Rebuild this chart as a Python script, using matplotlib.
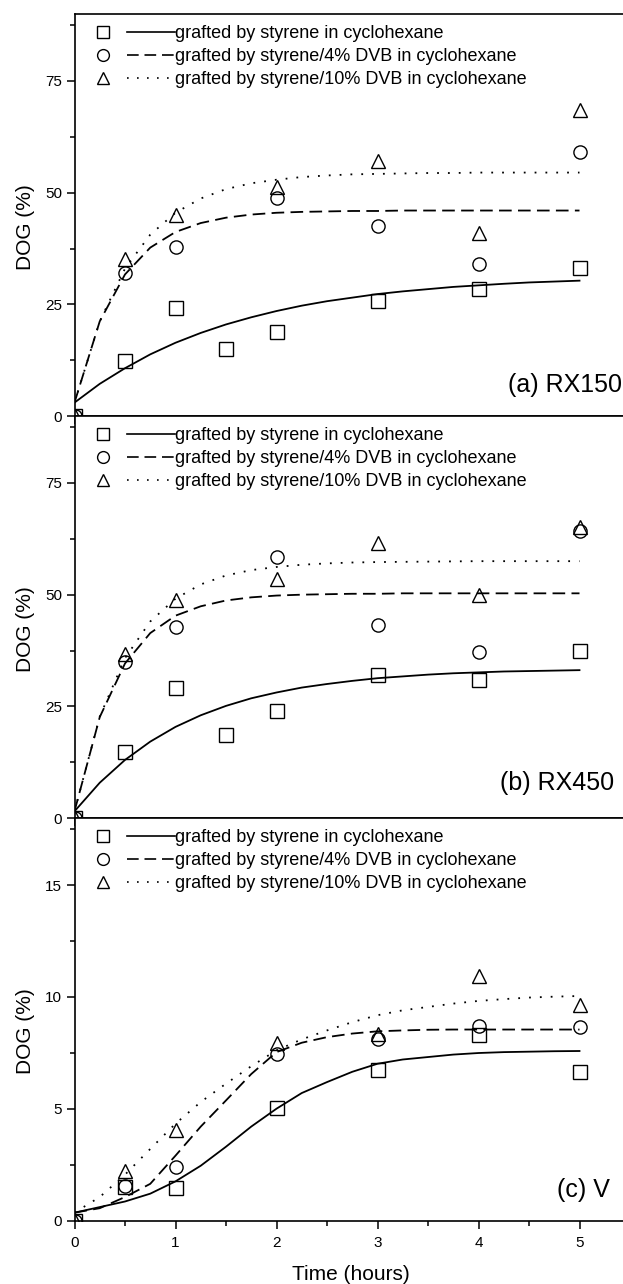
import matplotlib
matplotlib.use("Agg")
import matplotlib.pyplot as plt
from matplotlib.lines import Line2D
from matplotlib.legend_handler import HandlerTuple
from matplotlib.ticker import MultipleLocator

plt.rcParams["font.family"] = ["Liberation Sans", "DejaVu Sans"]

# ---- data ---------------------------------------------------------------
t_sq = [0, 0.5, 1, 1.5, 2, 3, 4, 5]
t_pt = [0, 0.5, 1, 2, 3, 4, 5]
t_sq_v = [0, 0.5, 1, 2, 3, 4, 5]

# (a) RX150
a_sty = [0, 12.4, 24.2, 15.1, 18.8, 25.7, 28.5, 33.1]
a_dvb4 = [0, 32.0, 37.9, 48.7, 42.6, 34.0, 59.0]
a_dvb10 = [0, 35.2, 45.0, 51.3, 57.1, 40.9, 68.5]

# (b) RX450
b_sty = [0, 14.8, 29.0, 18.6, 23.9, 32.0, 31.0, 37.4]
b_dvb4 = [0, 35.0, 42.8, 58.5, 43.2, 37.2, 64.2]
b_dvb10 = [0, 36.8, 48.9, 53.6, 61.5, 49.9, 65.1]

# (c) V
c_sty = [0, 1.52, 1.46, 5.04, 6.74, 8.28, 6.64]
c_dvb4 = [0, 1.55, 2.39, 7.46, 8.13, 8.68, 8.65]
c_dvb10 = [0, 2.2, 4.03, 7.94, 8.33, 10.92, 9.62]

# fitted curves, read at 0.25 h steps
t_fit = [0, 0.25, 0.5, 0.75, 1, 1.25, 1.5, 1.75, 2, 2.25, 2.5, 2.75, 3,
         3.25, 3.5, 3.75, 4, 4.25, 4.5, 4.75, 5]

a_fit_sty = [3.0, 7.2, 10.7, 13.8, 16.4, 18.6, 20.5, 22.1, 23.5, 24.7, 25.7,
             26.5, 27.3, 27.9, 28.4, 28.9, 29.25, 29.6, 29.9, 30.1, 30.3]
a_fit_dvb4 = [3.0, 21.2, 31.7, 37.7, 41.2, 43.2, 44.4, 45.1, 45.5, 45.7, 45.8,
              45.9, 45.9, 46.0, 46.0, 46.0, 46.0, 46.0, 46.0, 46.0, 46.0]
a_fit_dvb10 = [3.0, 21.2, 33.0, 40.6, 45.5, 48.7, 50.8, 52.1, 52.9, 53.5,
               53.85, 54.1, 54.2, 54.3, 54.4, 54.4, 54.5, 54.5, 54.5, 54.5, 54.5]

b_fit_sty = [1.5, 7.9, 13.0, 17.1, 20.4, 23.0, 25.1, 26.8, 28.1, 29.2, 30.0,
             30.7, 31.3, 31.7, 32.1, 32.4, 32.6, 32.8, 32.9, 33.0, 33.1]
b_fit_dvb4 = [1.5, 22.6, 34.6, 41.4, 45.3, 47.4, 48.7, 49.4, 49.8, 50.0, 50.1,
              50.2, 50.2, 50.3, 50.3, 50.3, 50.3, 50.3, 50.3, 50.3, 50.3]
b_fit_dvb10 = [1.5, 22.7, 35.8, 44.0, 49.1, 52.3, 54.3, 55.5, 56.2, 56.7, 57.0,
               57.2, 57.3, 57.35, 57.4, 57.45, 57.5, 57.5, 57.5, 57.5, 57.5]

c_fit_sty = [0.35, 0.6, 0.85, 1.2, 1.75, 2.45, 3.3, 4.2, 5.0, 5.7, 6.19,
             6.65, 7.01, 7.2, 7.31, 7.42, 7.49, 7.53, 7.55, 7.57, 7.58]
c_fit_dvb4 = [0.35, 0.55, 1.05, 1.64, 2.9, 4.2, 5.37, 6.55, 7.53, 7.95, 8.2,
              8.36, 8.46, 8.5, 8.53, 8.54, 8.54, 8.54, 8.54, 8.54, 8.54]
c_fit_dvb10 = [0.35, 1.05, 2.05, 3.2, 4.33, 5.3, 6.12, 6.9, 7.61, 8.1, 8.5,
               8.87, 9.18, 9.4, 9.55, 9.7, 9.82, 9.9, 9.97, 10.01, 10.04]

legend_labels = ["grafted by styrene in cyclohexane",
                 "grafted by styrene/4% DVB in cyclohexane",
                 "grafted by styrene/10% DVB in cyclohexane"]

panels = [
    dict(tag="(a) RX150", ymax=90, ystep=25,
         sq=(t_sq, a_sty), ci=(t_pt, a_dvb4), tr=(t_pt, a_dvb10),
         fits=(a_fit_sty, a_fit_dvb4, a_fit_dvb10), px=(14, 416),
         tagpos=(0.998, 0.077)),
    dict(tag="(b) RX450", ymax=90, ystep=25,
         sq=(t_sq, b_sty), ci=(t_pt, b_dvb4), tr=(t_pt, b_dvb10),
         fits=(b_fit_sty, b_fit_dvb4, b_fit_dvb10), px=(416, 818),
         tagpos=(0.984, 0.087)),
    dict(tag="(c) V", ymax=18, ystep=5,
         sq=(t_sq_v, c_sty), ci=(t_pt, c_dvb4), tr=(t_pt, c_dvb10),
         fits=(c_fit_sty, c_fit_dvb4, c_fit_dvb10), px=(818, 1220.5),
         tagpos=(0.976, 0.076)),
]

W, H = 623, 1284
LEFT = 74.5
XMAX = (W - LEFT) / 101.0

markers = ["s", "o", "^"]
styles = ["-", (0, (7, 3.5)), (0, (1, 5))]

fig = plt.figure(figsize=(W / 100, H / 100), dpi=100)

for i, p in enumerate(panels):
    top, bot = p["px"]
    ax = fig.add_axes([LEFT / W, 1 - bot / H, 1 - LEFT / W, (bot - top) / H])
    ax.set_xlim(0, XMAX)
    ax.set_ylim(0, p["ymax"])

    for (xs, ys), m in zip((p["sq"], p["ci"], p["tr"]), markers):
        ax.plot(xs, ys, ls="none", marker=m, ms=9.5, mfc="none", mec="black",
                mew=1.0, zorder=4)
    for ys, ls in zip(p["fits"], styles):
        ax.plot(t_fit, ys, color="black", ls=ls, lw=1.3, zorder=3)

    handles = []
    for m, ls in zip(markers, styles):
        mk = Line2D([], [], ls="none", marker=m, ms=8.5, mfc="none",
                    mec="black", mew=1.0)
        ln = Line2D([], [], color="black", ls=ls, lw=1.2)
        handles.append((mk, ln))
    ax.legend(handles, legend_labels, loc="upper left",
              bbox_to_anchor=(0.008, 0.972), frameon=False, fontsize=13,
              handler_map={tuple: HandlerTuple(ndivide=None, pad=0)},
              handlelength=5.3, handletextpad=0.0, borderpad=0,
              borderaxespad=0, labelspacing=0.33)

    ax.text(*p["tagpos"], p["tag"], transform=ax.transAxes, ha="right",
            va="center", fontsize=18)
    ax.text(-0.09, 0.47, "DOG (%)", transform=ax.transAxes, rotation=90,
            ha="center", va="center", fontsize=15)

    ax.xaxis.set_major_locator(MultipleLocator(1))
    ax.xaxis.set_minor_locator(MultipleLocator(0.5))
    ax.yaxis.set_major_locator(MultipleLocator(p["ystep"]))
    ax.yaxis.set_minor_locator(MultipleLocator(p["ystep"] / 2))
    ax.tick_params(which="both", direction="out", top=False, right=False,
                   width=1.1)
    ax.tick_params(which="major", length=6)
    ax.tick_params(which="minor", length=3.5)
    ax.tick_params(axis="y", labelsize=11, pad=3)
    ax.tick_params(axis="x", labelsize=11, pad=5, labelbottom=(i == 2))
    ax.spines["right"].set_visible(False)
    for s in ("left", "bottom", "top"):
        ax.spines[s].set_linewidth(1.2)

fig.text(351 / W, 1 - 1275 / H, "Time (hours)", ha="center", va="center",
         fontsize=15)

fig.savefig("out.png", dpi=100)
